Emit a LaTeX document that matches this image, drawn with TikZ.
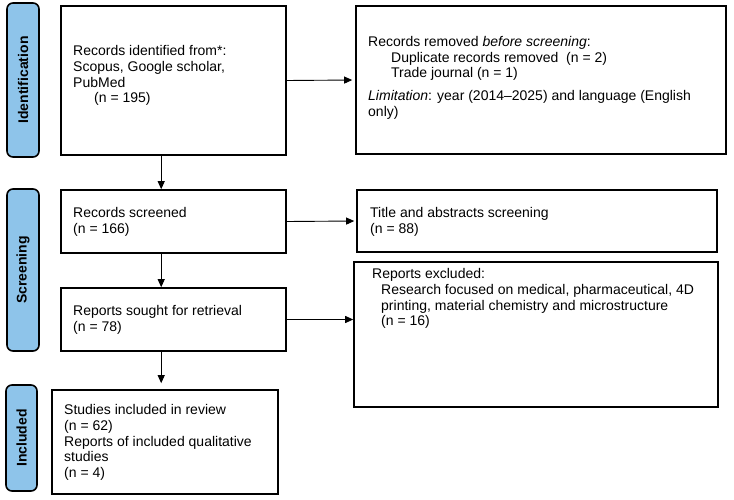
\documentclass[tikz,border=0pt]{standalone}
\usepackage{fontspec}
\setmainfont{Liberation Sans}
\usetikzlibrary{arrows.meta}
\definecolor{lblue}{RGB}{142,196,234}
\begin{document}
\begin{tikzpicture}[x=1pt,y=-1pt,
  box/.style={draw, line width=1.6pt, inner sep=0pt},
  side/.style={draw, line width=1.6pt, fill=lblue, rounded corners=6pt, rotate=90, inner sep=0pt, font=\fontsize{14}{16}\selectfont\bfseries},
  txt/.style={anchor=north west, align=left, inner sep=0pt, font=\fontsize{14}{15.7}\selectfont},
  arr/.style={-{Triangle[length=8pt,width=7pt]}, line width=0.9pt}]
\useasboundingbox (0,0) rectangle (734,500);
% side labels
\node[side, minimum width=154pt, minimum height=32pt] (l1) at (23,80) {Identification};
\node[side, minimum width=162pt, minimum height=32pt] (l2) at (23,270) {Screening};
\node[side, minimum width=106pt, minimum height=31pt] (l3) at (21.5,438) {Included};
% boxes
\node[box, minimum width=225pt, minimum height=149pt] (b1) at (173.5,80.5) {};
\node[box, minimum width=370pt, minimum height=148pt] (b2) at (541,80) {};
\node[box, minimum width=225pt, minimum height=63pt] (b3) at (173.5,221.5) {};
\node[box, minimum width=360pt, minimum height=62pt] (b4) at (537,221) {};
\node[box, minimum width=225pt, minimum height=63pt] (b5) at (173.5,319.5) {};
\node[box, minimum width=364pt, minimum height=145pt] (b6) at (536,334.5) {};
\node[box, minimum width=226pt, minimum height=104pt] (b7) at (165,442) {};
% texts
\node[txt] (t1) at (73,45.5) {Records identified from*:\\Scopus, Google scholar,\\PubMed\\\hspace*{21pt}(n = 195)};
\node[txt] (t2) at (368,36) {Records removed \textit{before screening}:\\\hspace*{23pt}Duplicate records removed\ \ (n = 2)\\\hspace*{23pt}Trade journal (n = 1)\\[7pt]\textit{Limitation}: year (2014–2025) and language (English\\only)};
\node[txt] (t3) at (73,207.5) {Records screened\\(n = 166)};
\node[txt] (t4) at (370,207.5) {Title and abstracts screening\\(n = 88)};
\node[txt] (t5) at (73,305.5) {Reports sought for retrieval\\(n = 78)};
\node[txt] (t6) at (372,268.5) {Reports excluded:\\\hspace*{9pt}Research focused on medical, pharmaceutical, 4D\\\hspace*{9pt}printing, material chemistry and microstructure\\\hspace*{9pt}(n = 16)};
\node[txt] (t7) at (64,404.5) {Studies included in review\\(n = 62)\\Reports of included qualitative\\studies\\(n = 4)};
% connectors
\draw[arr, shorten >=3pt] (b1.east) -- (b2.west);
\draw[arr, shorten >=2pt] (b3.east) -- (b4.west);
\draw[arr] (b5.east) -- (b5.east -| b6.west);
\draw[arr] ([xshift=101pt]b1.south west) -- ([xshift=101pt]b3.north west);
\draw[arr] ([xshift=101pt]b3.south west) -- ([xshift=101pt]b5.north west);
\draw[arr, shorten >=6pt] ([xshift=101pt]b5.south west) -- ([xshift=101pt]b5.south west |- b7.north);
\end{tikzpicture}
\end{document}
